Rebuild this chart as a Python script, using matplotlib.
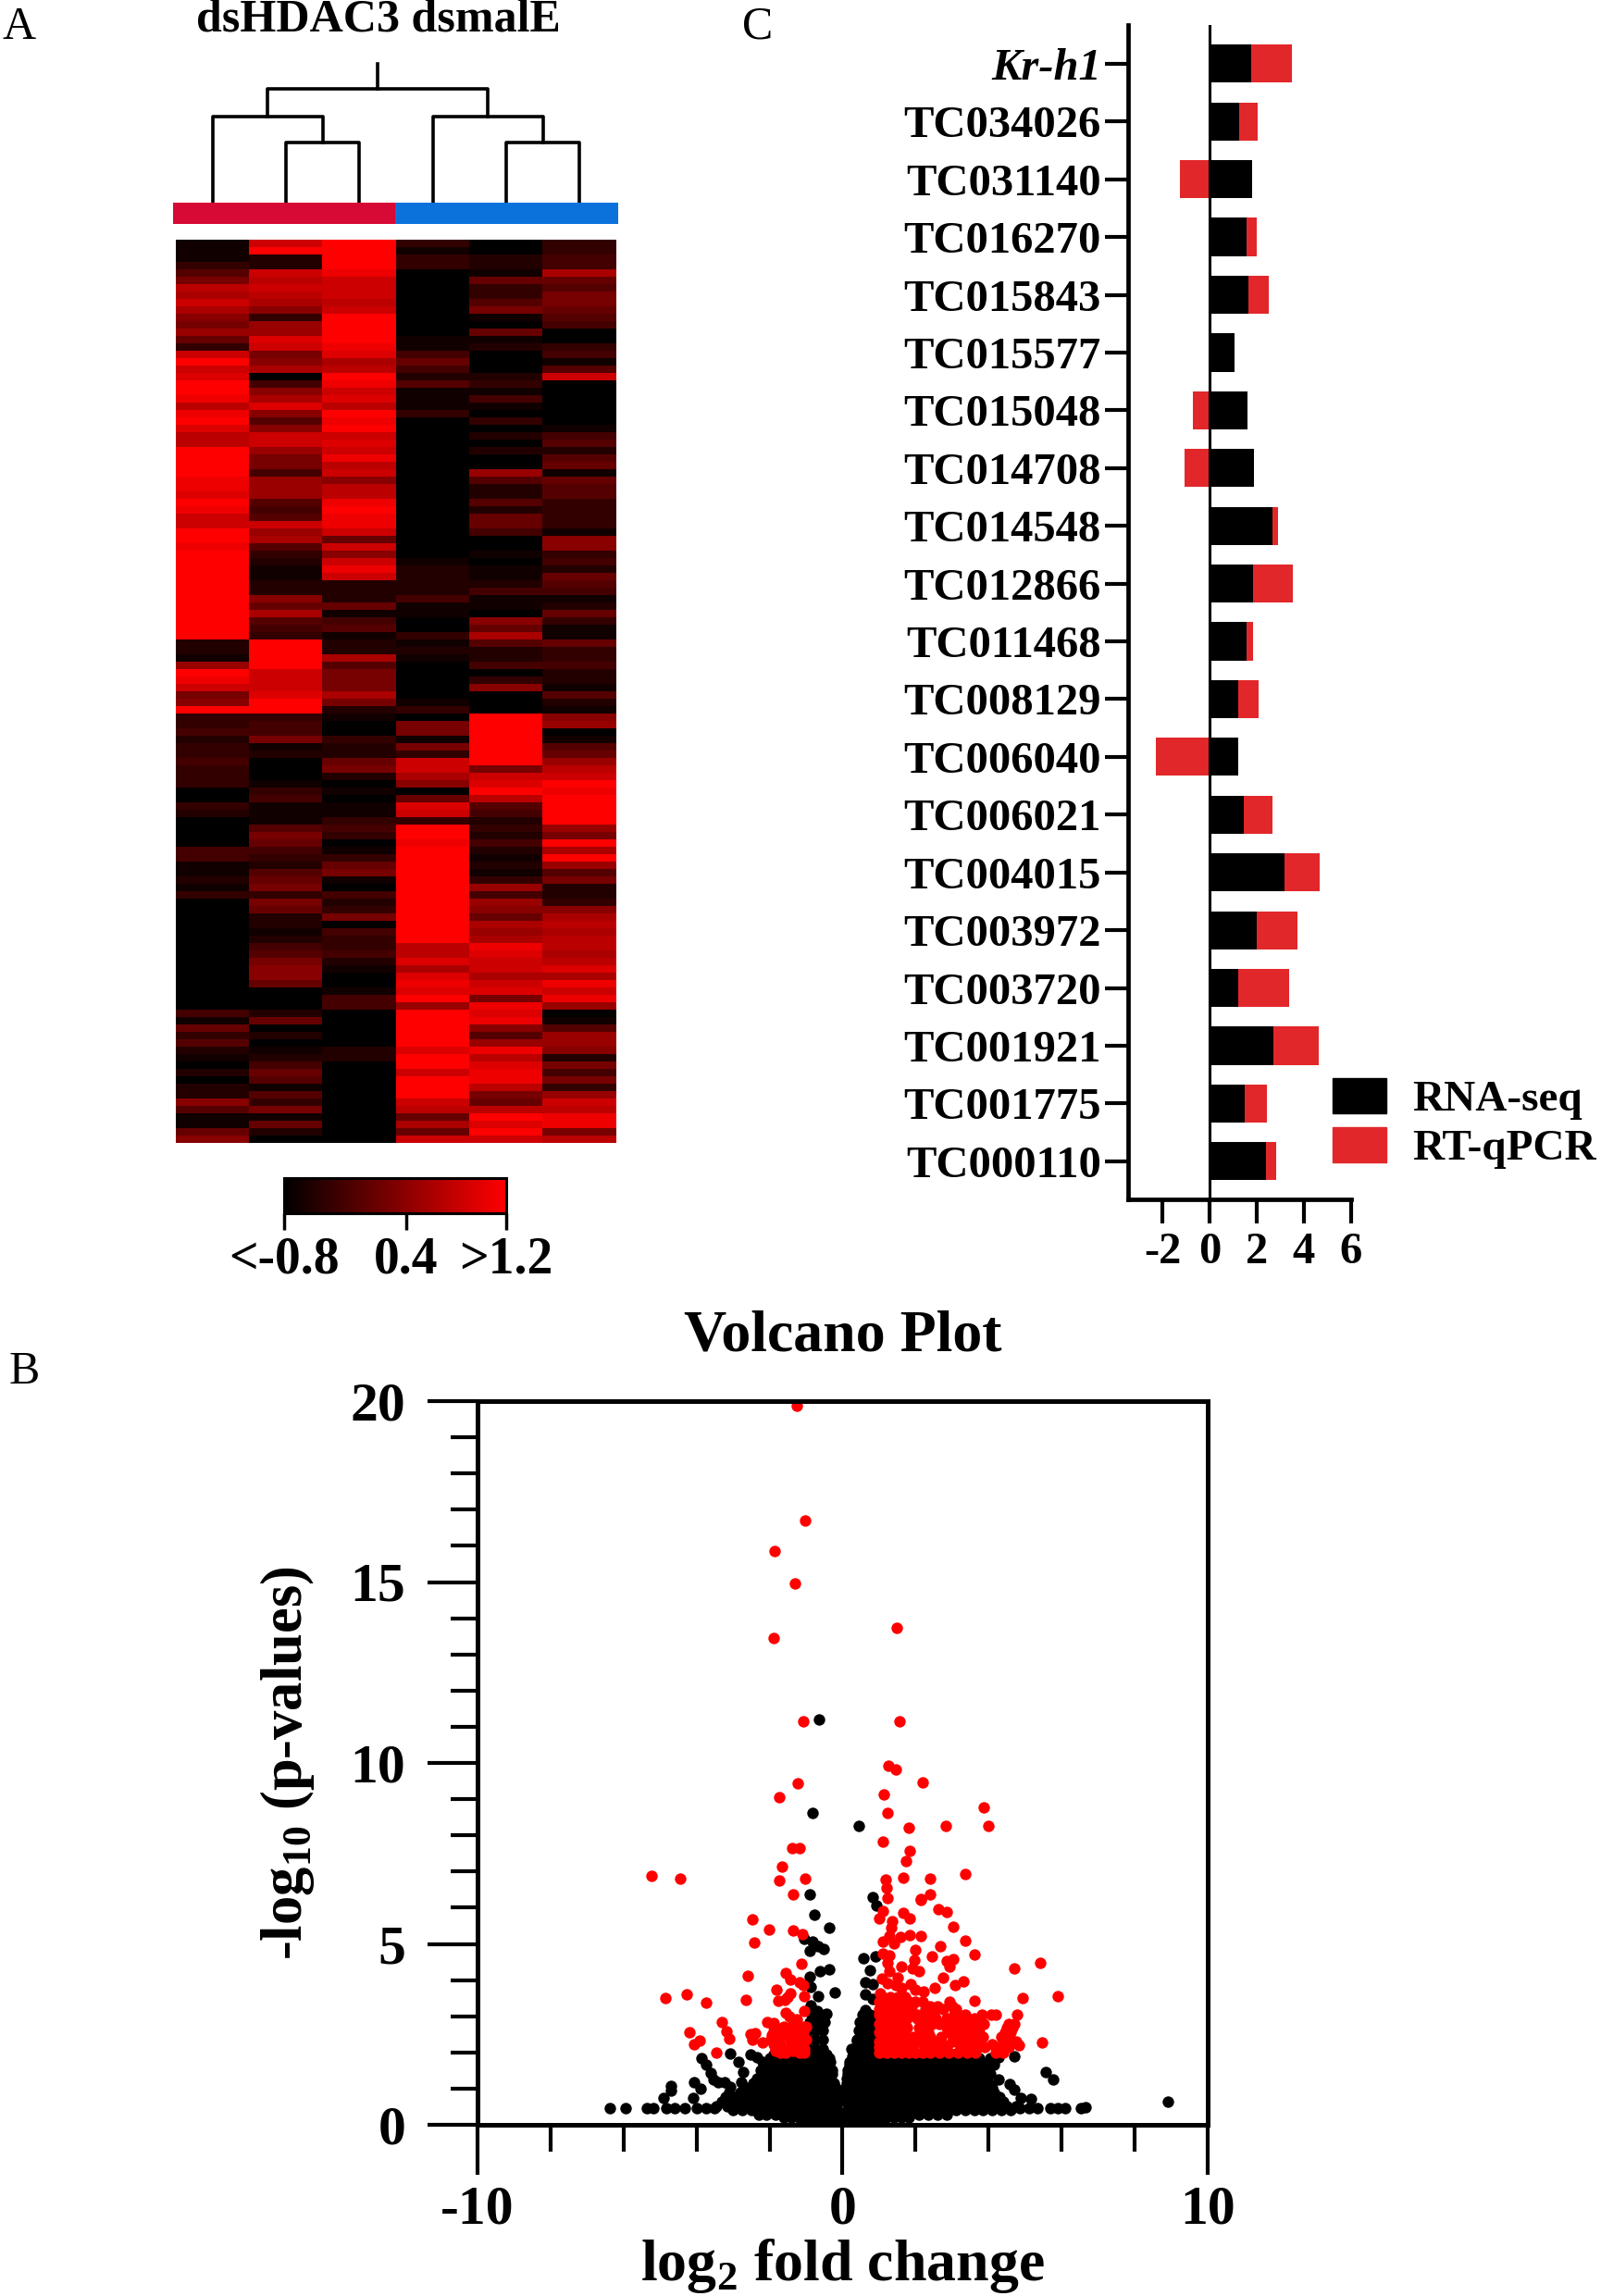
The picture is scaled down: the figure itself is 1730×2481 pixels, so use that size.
import matplotlib
matplotlib.use('Agg')
import matplotlib.pyplot as plt
import numpy as np
from matplotlib.colors import LinearSegmentedColormap
from matplotlib.patches import Patch

plt.rcParams['font.family'] = ['Liberation Serif', 'DejaVu Serif']
plt.rcParams['font.weight'] = 'bold'
plt.rcParams['axes.unicode_minus'] = False
plt.rcParams['mathtext.fontset'] = 'custom'
plt.rcParams['mathtext.rm'] = 'Liberation Serif:bold'
plt.rcParams['mathtext.bf'] = 'Liberation Serif:bold'

W, H = 1731, 2481

# heat map, one hex digit per row (0 = lowest, f = highest)
col1 = ("111357baca 87963cfcdf febefdbbff ffeedfeccff"
        "efffffffff fff2219fec 78f3342334 33300320000"
        "4411213000 0000000000 0041635210 2022851168")
col2 = ("cf22cbcba8 399dc78a04 8ad858cc97 74999545c9a"
        "532112286a 543ffffccc dff3447120 00134111576"
        "4325673762 2124578860 0026020124 6515371620")
col3 = ("ffffecccbc ffffedabfe cdbfefcdce bc8bbefeec6"
        "c8cec22261 45122a5777 a721003226 72010113430"
        "1367104237 0433421001 4400000220 0000000000")
col4 = ("3133000000 0001146425 1113000000 00000000000"
        "0012222411 0031210000 013077173c ca806dc3ffe"
        "ffffffffff fffbbdaded f9fffffdff cfffcb6a6c")
col5 = ("0022163357 1061200023 1410302020 09522526640"
        "0101124110 86a5224038 000fffffff 7cdfb542324"
        "2121394986 a9aedccacd 7ede859ebd eeb76bfdfc")
col6 = ("3344a65776 54003415c0 0000014525 61655333318"
        "8342654126 3116334221 5218901569 bcfeffff97f"
        "af9572238a babbabdaec e901599827 4739cbee7b")
heat_low, heat_high = -0.8, 1.2
scale_ticks = [-0.8, 0.3, 1.2]
scale_labels = ['<-0.8', '0.4', '>1.2']

# dendrogram heights
merge_low, merge_mid, merge_top, merge_root = 65, 93, 123, 150

# bar chart
genes = ['Kr-h1', 'TC034026', 'TC031140', 'TC016270', 'TC015843', 'TC015577', 'TC015048',
         'TC014708', 'TC014548', 'TC012866', 'TC011468', 'TC008129', 'TC006040', 'TC006021',
         'TC004015', 'TC003972', 'TC003720', 'TC001921', 'TC001775', 'TC000110']
rna_seq = [1.76, 1.25, 1.80, 1.56, 1.66, 1.05, 1.60, 1.88, 2.66, 1.84,
           1.56, 1.21, 1.21, 1.45, 3.16, 1.99, 1.23, 2.70, 1.50, 2.38]
rt_qpcr = [1.72, 0.78, -1.27, 0.45, 0.84, 0.0, -0.70, -1.05, 0.23, 1.68,
           0.29, 0.88, -2.29, 1.23, 1.50, 1.74, 2.13, 1.93, 0.92, 0.45]

# volcano, single red points
red_x = [-1.26, -1.03, -1.87, -1.30, 1.48, -1.88, -1.07, 1.57, 1.25, 1.47, -1.24, 2.20, -1.74, 1.14, 3.86,
         1.22, 1.81, 2.83, 3.98, -5.23, -4.46, -1.39, -1.18, -1.66, -1.73, -1.03, -1.35, 1.09, 1.85, 1.74,
         3.37, 1.65, 2.39, 1.17, 1.21, 1.22, 2.39, 2.13,
         -2.47, -2.02, -1.36, -1.10, -2.42, -1.12, -2.61, -1.55, -1.42, -1.17, -1.08, -1.82, -1.42, -1.50,
         -1.06, -2.64, -1.76, -1.59, -4.86, -4.28, -3.74, -1.56, -1.06, -1.46, -3.32, -2.07, -1.90, -1.25,
         -1.08, -4.20, -3.19, -3.11, -3.91, -4.08, -3.45, -2.52, -2.39, -2.47, -2.20,
         2.15, 2.62, 2.86, 1.11, 1.00, 1.66, 1.83, 1.35, 1.33, 3.03, 1.28, 1.11, 1.58, 1.83, 2.15, 1.41,
         3.37, 2.68, 2.00, 1.11, 1.28, 3.61, 2.45, 3.02, 2.85, 5.42, 1.24, 1.96, 2.93, 4.69, 1.60, 1.92,
         2.09, 1.28, 1.50, 2.76, 3.31, 3.08, 1.07, 1.24, 1.45, 1.87, 2.51, 2.21, 2.00, 1.62, 1.03, 5.90,
         4.94, 3.62, 5.45, 4.83]
red_y = [19.86, 16.70, 15.85, 14.95, 13.73, 13.44, 11.16, 11.16, 9.92, 9.82, 9.45, 9.46, 9.05, 9.13, 8.76,
         8.63, 8.20, 8.27, 8.27, 6.88, 6.81, 7.64, 7.64, 7.13, 6.75, 6.81, 6.36, 7.82, 7.56, 7.30,
         6.93, 6.83, 6.81, 6.79, 6.56, 6.26, 6.37, 6.24,
         5.69, 5.40, 5.38, 5.27, 5.03, 4.44, 4.12, 4.19, 4.01, 3.95, 3.86, 3.73, 3.63, 3.52,
         3.55, 3.44, 3.42, 3.44, 3.50, 3.61, 3.37, 3.09, 3.15, 2.98, 2.84, 2.84, 2.81, 2.92,
         2.71, 2.57, 2.58, 2.39, 2.33, 2.23, 1.99, 2.50, 2.54, 2.35, 2.28,
         6.22, 5.97, 5.88, 5.91, 5.71, 5.85, 5.71, 5.63, 5.44, 5.47, 5.23, 5.07, 5.18, 5.25, 5.22, 5.01,
         5.10, 4.94, 4.84, 4.72, 4.67, 4.71, 4.65, 4.57, 4.53, 4.48, 4.48, 4.54, 4.37, 4.31, 4.37, 4.33,
         4.25, 4.25, 4.07, 4.06, 3.97, 3.86, 4.03, 3.92, 3.86, 3.90, 3.79, 3.69, 3.73, 3.78, 3.63, 3.55,
         3.50, 3.42, 2.27, 2.20]

# volcano, dense red area read row by row
red_rows = [
    (3.52, [1.1, 1.3, 1.5, 1.7]),
    (3.40, [1.0, 1.2, 1.4, 1.6, 1.8, 2.0, 2.2, 2.93]),
    (3.27, [1.1, 1.3, 1.5, 1.7, 1.9, 2.4, 2.6, 3.0]),
    (3.20, [1.0, 1.35, 1.55, 1.75, 2.26, 2.76, 3.10]),
    (3.05, [1.0, 1.2, 1.4, 1.6, 1.8, 2.05, 2.3, 2.5, 3.05, 3.35, 3.82, 4.07, 4.2, 4.79]),
    (2.93, [1.1, 1.3, 1.5, 1.75, 2.05, 2.35, 2.55, 2.85, 3.15, 3.4, 3.6]),
    (2.80, [1.0, 1.2, 1.4, 1.65, 2.25, 2.45, 2.65, 3.0, 3.25, 3.55, 3.69, 3.86, 4.54, 4.7]),
    (2.68, [1.1, 1.3, 1.5, 1.75, 2.1, 2.35, 2.85, 3.1, 3.3, 3.55, 3.75, 4.5, 4.65]),
    (2.55, [1.0, 1.15, 1.35, 1.55, 2.2, 2.35, 2.9, 3.15, 3.45, 3.75, 4.45, 4.6]),
    (2.42, [1.1, 1.3, 1.5, 1.7, 1.95, 2.2, 2.4, 2.7, 3.1, 3.35, 3.6, 3.85, 4.35, 4.55]),
    (2.30, [1.0, 1.2, 1.4, 1.6, 1.8, 2.1, 2.3, 2.5, 3.0, 3.2, 3.5, 3.7, 4.4, 4.6, 4.75]),
    (2.22, [1.1, 1.3, 1.5, 1.7, 1.95, 2.35, 2.55, 2.75, 3.2, 3.45, 3.8, 4.1, 4.5]),
    (2.15, [1.0, 1.2, 1.4, 1.6, 1.85, 2.25, 2.45, 2.65, 2.85, 3.3, 3.6, 3.9, 4.3, 4.55]),
    (2.00, [1.0, 1.2, 1.4, 1.6, 1.8, 2.0, 2.2, 2.4, 2.65, 2.9, 3.15, 3.4, 3.65, 4.2, 4.4]),
    (2.72, [-1.88, -1.6, -1.4, -1.2, -1.0]),
    (2.58, [-1.88, -1.63, -1.33, -1.08, -1.71, -1.46]),
    (2.47, [-1.95, -1.75, -1.55, -1.3, -1.1]),
    (2.35, [-1.97, -1.88, -1.42, -1.21, -1.0, -1.08]),
    (2.22, [-1.9, -1.7, -1.4, -1.15]),
    (2.10, [-1.84, -1.80, -1.46, -1.29, -1.04]),
    (2.05, [-1.85, -1.6, -1.35, -1.15]),
    (1.99, [-1.71, -1.55, -1.17, -1.04]),
]

# volcano, single black points
black_x = [-0.65, -0.82, 0.45, -0.89, -0.77, -0.38, 0.82, 0.93, -1.04, -0.83, -0.91, -0.66, -0.52, -0.62, -0.36,
           -0.91, -0.66, -0.21, -0.87, -0.45, -0.70, -0.87,
           0.57, 0.90, 0.75, 0.63, 0.82, 0.63, 0.82, 0.61, 0.48, 0.73, 0.78, 0.40, 0.65, 0.82, 0.27, 0.57,
           -6.38, -5.94, -5.35, -5.18, -4.84, -4.59, -4.33, -3.99, -3.75, -3.5,
           -3.87, -3.74, -3.61, -3.53, -3.40, -3.23, -3.07, -3.07, -2.84, -2.73, -2.77, -2.52, -2.35,
           -4.08, -4.71, -4.69, -4.90, -3.89, -4.10,
           4.70, 5.57, 5.76, 4.58, 4.70, 4.87, 5.17, 4.28, 4.11, 4.28, 4.85, 5.1, 5.34, 5.68, 5.89, 6.10,
           6.52, 6.65, 8.91]
black_y = [11.19, 8.61, 8.27, 6.37, 5.81, 5.45, 6.30, 6.07, 5.14, 5.06, 4.80, 4.93, 4.86, 4.25, 4.29,
           4.09, 3.56, 3.65, 3.31, 3.07, 3.14, 3.82,
           4.61, 4.65, 4.26, 3.95, 3.90, 3.60, 3.48, 3.18, 2.84, 3.05, 2.71, 2.33, 2.46, 2.20, 1.90, 1.94,
           0.45, 0.45, 0.45, 0.45, 0.45, 0.45, 0.45, 0.45, 0.45, 0.45,
           1.84, 1.65, 1.43, 1.26, 1.18, 1.18, 1.05, 1.96, 1.73, 1.47, 1.18, 1.94, 1.86,
           1.18, 1.07, 0.94, 0.75, 0.99, 0.75,
           1.90, 1.47, 1.26, 1.13, 0.96, 0.75, 0.71, 1.26, 1.69, 1.86, 0.45, 0.45, 0.45, 0.45, 0.45, 0.45,
           0.45, 0.48, 0.63]

# volcano, dense black area read row by row
black_rows = [
    (0.05, [-1.0, -0.8, -0.6, -0.4, -0.2, 0.0, 0.2, 0.4, 0.6, 0.8, 1.0]),
    (0.20, [-1.6, -1.4, -1.2, -1.0, -0.8, -0.6, -0.4, -0.2, 0.05, 0.2, 0.4, 0.6, 0.8, 1.0, 1.2, 1.4, 1.6, 1.8]),
    (0.28, [-2.3, -2.1, -1.85, -1.6, -1.35, -1.1, -0.85, -0.6, -0.35, -0.12, 0.12, 0.35, 0.6, 0.85, 1.1, 1.35,
            1.6, 1.85, 2.1, 2.35, 2.6, 2.85]),
    (0.40, [-3.0, -2.75, -2.5, -2.25, -2.0, -1.75, -1.5, -1.25, -1.0, -0.75, -0.5, -0.3, -0.15, 0.15, 0.35, 0.6,
            0.85, 1.1, 1.35, 1.6, 1.85, 2.1, 2.35, 2.6, 2.85, 3.1, 3.35, 3.6, 3.85, 4.1, 4.35, 4.6]),
    (0.52, [-3.45, -3.15, -2.9, -2.65, -2.4, -2.15, -1.9, -1.65, -1.4, -1.15, -0.9, -0.65, -0.4, -0.2, 0.22, 0.5,
            0.75, 1.0, 1.25, 1.5, 1.75, 2.0, 2.25, 2.5, 2.75, 3.0, 3.25, 3.5, 3.75, 4.0, 4.25, 4.5, 4.75]),
    (0.65, [-3.3, -3.0, -2.75, -2.5, -2.25, -2.0, -1.75, -1.5, -1.25, -1.0, -0.75, -0.5, -0.3, -0.12, 0.1, 0.2,
            0.4, 0.65, 0.9, 1.15, 1.4, 1.65, 1.9, 2.15, 2.4, 2.65, 2.9, 3.15, 3.4, 3.65, 3.9, 4.15, 4.4]),
    (0.78, [-3.2, -2.9, -2.65, -2.4, -2.15, -1.9, -1.65, -1.4, -1.15, -0.9, -0.65, -0.4, -0.15, 0.08, 0.3, 0.55,
            0.8, 1.05, 1.3, 1.55, 1.8, 2.05, 2.3, 2.55, 2.8, 3.05, 3.3, 3.55, 3.8, 4.05, 4.3]),
    (0.90, [-3.1, -2.8, -2.5, -2.25, -2.0, -1.75, -1.5, -1.25, -1.0, -0.75, -0.5, -0.3, -0.15, 0.1, 0.2, 0.45,
            0.7, 0.95, 1.2, 1.45, 1.7, 1.95, 2.2, 2.45, 2.7, 2.95, 3.2, 3.45, 3.7, 3.95, 4.15]),
    (1.02, [-2.65, -2.4, -2.1, -1.85, -1.6, -1.35, -1.1, -0.85, -0.6, -0.38, -0.18, 0.1, 0.35, 0.6, 0.85, 1.1,
            1.35, 1.6, 1.85, 2.1, 2.35, 2.6, 2.85, 3.1, 3.35, 3.6, 3.85, 4.1]),
    (1.15, [-2.45, -2.2, -1.95, -1.7, -1.45, -1.2, -0.95, -0.7, -0.45, -0.25, 0.12, 0.3, 0.5, 0.75, 1.0, 1.25,
            1.5, 1.75, 2.0, 2.25, 2.5, 2.75, 3.0, 3.25, 3.5, 3.75, 4.0]),
    (1.28, [-2.35, -2.1, -1.85, -1.6, -1.35, -1.1, -0.85, -0.6, -0.35, 0.12, 0.42, 0.65, 0.9, 1.15, 1.4, 1.65,
            1.9, 2.15, 2.4, 2.65, 2.9, 3.15, 3.4, 3.65, 3.9]),
    (1.40, [-2.2, -1.95, -1.7, -1.45, -1.2, -0.95, -0.7, -0.45, -0.28, 0.15, 0.3, 0.55, 0.8, 1.05, 1.3, 1.55,
            1.8, 2.05, 2.3, 2.55, 2.8, 3.05, 3.3, 3.55, 3.8, 4.05]),
    (1.52, [-2.25, -2.0, -1.75, -1.5, -1.25, -1.0, -0.75, -0.5, -0.3, 0.15, 0.42, 0.7, 0.95, 1.2, 1.45, 1.7,
            1.95, 2.2, 2.45, 2.7, 2.95, 3.2, 3.45, 3.7, 3.95]),
    (1.65, [-2.1, -1.85, -1.6, -1.35, -1.1, -0.85, -0.6, -0.4, 0.18, 0.3, 0.55, 0.8, 1.05, 1.3, 1.55, 1.8,
            2.05, 2.3, 2.55, 2.8, 3.05, 3.3, 3.55, 3.85, 4.15]),
    (1.75, [-2.2, -1.95, -1.7, -1.45, -1.2, -0.95, -0.7, -0.45, -0.33, 0.18, 0.42, 0.7, 0.95, 1.2, 1.45, 1.7,
            1.95, 2.2, 2.45, 2.7, 2.95, 3.2, 3.5, 4.0]),
    (1.85, [-2.0, -1.75, -1.5, -1.25, -1.0, -0.75, -0.5, -0.36, 0.3, 0.55, 0.8, 1.05, 1.3, 1.55, 1.8, 2.05,
            2.3, 2.55, 2.85, 3.15, 3.75, 4.05]),
    (1.95, [-1.9, -1.6, -1.3, -1.0, -0.7, -0.45, 0.45, 0.7, 0.95, 1.2, 1.5, 1.8, 2.1, 2.4, 2.7, 3.0, 3.3, 3.6]),
    (2.10, [-0.95, -0.75, -0.55, 0.25, 0.45, 0.65, 0.85]),
    (2.35, [-0.95, -0.75, -0.55, 0.4, 0.6, 0.8]),
    (2.60, [-0.95, -0.75, -0.55, 0.45, 0.65, 0.85]),
    (2.85, [-0.9, -0.7, -0.5, 0.5, 0.7, 0.85]),
    (3.05, [-0.85, -0.65, -0.5, 0.55, 0.75]),
]


def px_axes(left, top, right, bottom):
    return fig.add_axes([left / W, 1 - bottom / H, (right - left) / W, (bottom - top) / H])


def px_text(x, y, s, **kw):
    fig.text(x / W, 1 - y / H, s, **kw)


fig = plt.figure(figsize=(W / 100, H / 100), dpi=100)

# panel letters
for letter, x, y in [('A', 3, 42), ('C', 802, 42), ('B', 10, 1495)]:
    px_text(x, y, letter, fontsize=36, fontweight='normal', ha='left', va='baseline')

# A: title
px_text(409, 34, 'dsHDAC3 dsmalE', fontsize=36, ha='center', va='baseline')

# A: dendrogram
ax_tree = px_axes(190, 219 - merge_root, 666, 219)
ax_tree.set_xlim(0, 6)
ax_tree.set_ylim(0, merge_root)
ax_tree.axis('off')
for offset in [0, 3]:
    a, b, c = offset + 0.5, offset + 1.5, offset + 2.5
    ax_tree.plot([b, b, c, c], [0, merge_low, merge_low, 0], color='black', lw=2.6, clip_on=False)
    mid = (b + c) / 2
    ax_tree.plot([a, a, mid, mid], [0, merge_mid, merge_mid, merge_low], color='black', lw=2.6, clip_on=False)
left_top = (0.5 + 2.0) / 2
right_top = (3.5 + 5.0) / 2
ax_tree.plot([left_top, left_top, right_top, right_top], [merge_mid, merge_top, merge_top, merge_mid],
             color='black', lw=2.6, clip_on=False)
centre = (left_top + right_top) / 2
ax_tree.plot([centre, centre], [merge_top, merge_root], color='black', lw=2.6, clip_on=False)

# A: group strip
ax_strip = px_axes(187, 219, 668, 242)
ax_strip.set_xlim(0, 2)
ax_strip.set_ylim(0, 1)
ax_strip.axis('off')
ax_strip.bar([0.5, 1.5], [1, 1], width=1, color=['#D60A35', '#0B72DB'])

# A: heat map
columns = [col1, col2, col3, col4, col5, col6]
matrix = np.array([[int(c, 16) for c in col.replace(' ', '')] for col in columns]).T
matrix = heat_low + (heat_high - heat_low) * matrix / 15
black_red = LinearSegmentedColormap.from_list('black_red', ['#000000', '#FF0000'])
ax_heat = px_axes(190, 259, 666, 1235)
im = ax_heat.imshow(matrix, aspect='auto', cmap=black_red, vmin=heat_low, vmax=heat_high, interpolation='nearest')
ax_heat.axis('off')

# A: colour scale
ax_scale = px_axes(307, 1273, 547, 1311)
cb = fig.colorbar(im, cax=ax_scale, orientation='horizontal', ticks=scale_ticks)
cb.ax.set_xticklabels(scale_labels, fontsize=40, fontweight='bold')
cb.ax.tick_params(length=13, width=2.5, pad=5)
cb.outline.set_linewidth(2.2)

# C: stacked bars
ax_bar = px_axes(1219, 27, 1460, 1296)
positions = np.arange(len(genes))
rna = np.array(rna_seq)
qpcr = np.array(rt_qpcr)
starts = np.where(qpcr >= 0, rna, 0)
ax_bar.barh(positions, qpcr, left=starts, height=0.66, color='#E2272A', label='RT-qPCR')
ax_bar.barh(positions, rna, height=0.66, color='black', label='RNA-seq')
ax_bar.axvline(0, color='black', lw=2.2)
ax_bar.set_xlim(-3.45, 6)
ax_bar.set_ylim(19.66, -0.67)
ax_bar.set_xticks([-2, 0, 2, 4, 6])
ax_bar.set_xticklabels(['-2', '0', '2', '4', '6'], fontsize=35)
ax_bar.set_yticks(positions)
ax_bar.set_yticklabels(genes, fontsize=35)
ax_bar.get_yticklabels()[0].set_style('italic')
ax_bar.tick_params(axis='y', length=18, width=3, pad=3)
ax_bar.tick_params(axis='x', length=19, width=3, pad=6)
ax_bar.spines['top'].set_visible(False)
ax_bar.spines['right'].set_visible(False)
ax_bar.spines['left'].set_linewidth(3.4)
ax_bar.spines['bottom'].set_linewidth(3.4)
legend_handles = [Patch(color='black', label='RNA-seq'), Patch(color='#E2272A', label='RT-qPCR')]
ax_bar.legend(handles=legend_handles, loc='upper left', bbox_to_anchor=(1440 / W, 1 - 1165 / H),
              bbox_transform=fig.transFigure, frameon=False, fontsize=34, handlelength=1.23,
              handleheight=0.85, labelspacing=0.17, handletextpad=0.6, borderpad=0, borderaxespad=0)

# B: volcano
ax_vol = px_axes(516, 1514, 1305, 2296)
for y, xs in black_rows:
    ax_vol.scatter(xs, [y] * len(xs), s=80, color='black', linewidths=0, zorder=2)
ax_vol.scatter(black_x, black_y, s=80, color='black', linewidths=0, zorder=2)
for y, xs in red_rows:
    ax_vol.scatter(xs, [y] * len(xs), s=80, color='#FF0000', linewidths=0, zorder=3)
ax_vol.scatter(red_x, red_y, s=80, color='#FF0000', linewidths=0, zorder=3)
ax_vol.set_xlim(-10, 10)
ax_vol.set_ylim(0, 20)
ax_vol.set_xticks([-10, 0, 10])
ax_vol.set_xticks(np.arange(-10, 11, 2), minor=True)
ax_vol.set_yticks([0, 5, 10, 15, 20])
ax_vol.set_yticks(np.arange(0, 21), minor=True)
ax_vol.tick_params(which='major', length=39, width=3, labelsize=43)
ax_vol.tick_params(which='minor', length=21, width=3)
ax_vol.tick_params(axis='x', which='major', pad=8)
ax_vol.tick_params(axis='y', which='major', pad=17)
for side in ax_vol.spines:
    ax_vol.spines[side].set_linewidth(3.6)
    ax_vol.spines[side].set_zorder(5)
ax_vol.set_title('Volcano Plot', fontsize=46, fontweight='bold', pad=39)
ax_vol.set_xlabel(r'log$_{\mathbf{2}}$ fold change', fontsize=46, fontweight='bold', labelpad=1)
ax_vol.set_ylabel(r'-log$_{\mathbf{10}}$ (p-values)', fontsize=45, fontweight='bold', labelpad=26)

fig.savefig('out.png', dpi=100)
